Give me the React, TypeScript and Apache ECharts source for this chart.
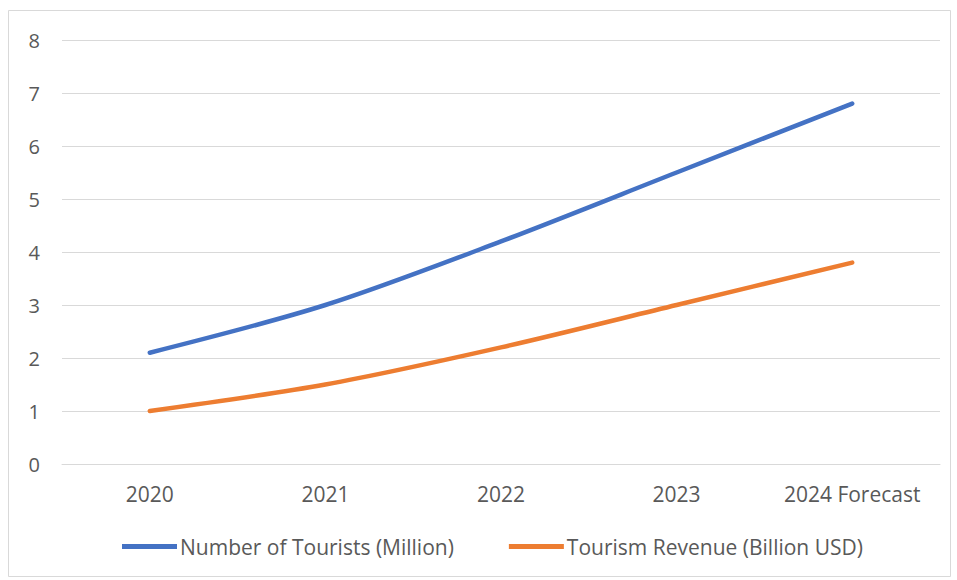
import React, { useEffect, useRef } from "react";
import * as echarts from "echarts";

const categories = ["2020", "2021", "2022", "2023", "2024 Forecast"];
const touristsMillion = [2.1, 3.0, 4.2, 5.5, 6.8];
const revenueBillionUSD = [1.0, 1.5, 2.2, 3.0, 3.8];
const seriesNames = ["Number of Tourists (Million)", "Tourism Revenue (Billion USD)"];

const FONT = "'Open Sans', 'Liberation Sans', sans-serif";
const TEXT = "#595959";

export default function App() {
  const ref = useRef<HTMLDivElement>(null);
  useEffect(() => {
    document.body.style.margin = "0";
    const chart = echarts.init(ref.current!, null, { renderer: "svg" });
    chart.setOption({
      animation: false,
      backgroundColor: "#ffffff",
      textStyle: { fontFamily: FONT },
      graphic: [
        {
          type: "rect",
          shape: { x: 8.5, y: 10.5, width: 942, height: 566 },
          style: { fill: "none", stroke: "#D9D9D9", lineWidth: 1 },
          silent: true,
        },
      ],
      grid: { left: 62, right: 17, top: 40, bottom: 116 },
      legend: {
        bottom: 18,
        left: 117,
        icon: "rect",
        itemWidth: 55,
        itemHeight: 5,
        itemGap: 55,
        textStyle: { color: TEXT, fontSize: 21, fontFamily: FONT, padding: [0, 0, 0, -2] },
        data: seriesNames,
      },
      xAxis: {
        type: "category",
        data: categories,
        boundaryGap: true,
        axisLine: { show: true, lineStyle: { color: "#D9D9D9", width: 1 } },
        axisTick: { show: false },
        axisLabel: { color: TEXT, fontSize: 21, margin: 19, fontFamily: FONT, interval: 0 },
      },
      yAxis: {
        type: "value",
        min: 0,
        max: 8,
        interval: 1,
        axisLine: { show: false },
        axisTick: { show: false },
        axisLabel: { color: TEXT, fontSize: 20, margin: 22, fontFamily: FONT },
        splitLine: { lineStyle: { color: "#D9D9D9", width: 1 } },
      },
      series: [
        {
          name: seriesNames[0],
          type: "line",
          data: touristsMillion,
          smooth: 0.3,
          showSymbol: false,
          symbol: "none",
          lineStyle: { color: "#4472C4", width: 4.5, cap: "round" },
          itemStyle: { color: "#4472C4" },
        },
        {
          name: seriesNames[1],
          type: "line",
          data: revenueBillionUSD,
          smooth: 0.3,
          showSymbol: false,
          symbol: "none",
          lineStyle: { color: "#ED7D31", width: 4.5, cap: "round" },
          itemStyle: { color: "#ED7D31" },
        },
      ],
    });
    return () => chart.dispose();
  }, []);
  return <div ref={ref} style={{ width: 957, height: 580, position: "absolute", left: 0, top: 0 }} />;
}
